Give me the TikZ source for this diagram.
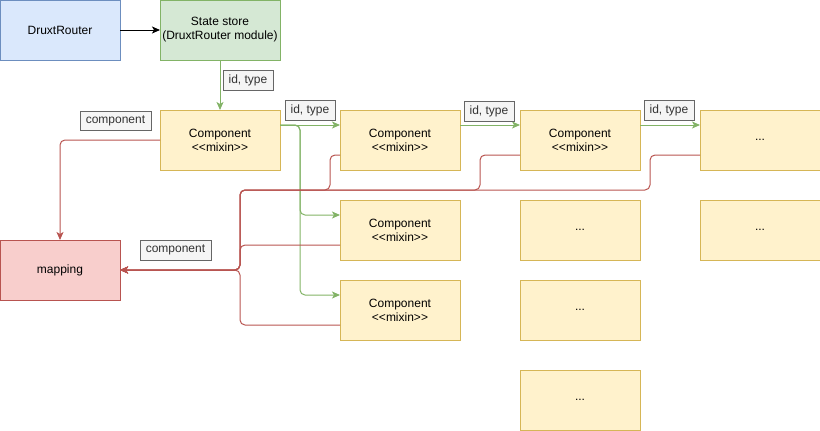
\documentclass[tikz,border=0pt]{standalone}
\usepackage{fontspec}
\setmainfont{Liberation Sans}
\usetikzlibrary{arrows.meta,calc}
\definecolor{bluefill}{HTML}{DAE8FC}\definecolor{blueline}{HTML}{6C8EBF}
\definecolor{greenfill}{HTML}{D5E8D4}\definecolor{greenline}{HTML}{82B366}
\definecolor{yelfill}{HTML}{FFF2CC}\definecolor{yelline}{HTML}{D6B656}
\definecolor{redfill}{HTML}{F8CECC}\definecolor{redline}{HTML}{B85450}
\definecolor{lblfill}{HTML}{F5F5F5}\definecolor{lblline}{HTML}{666666}\definecolor{lbltext}{HTML}{333333}
\newcommand{\mixin}{<\kern0pt<mixin>\kern0pt>}
\begin{document}
\begin{tikzpicture}[x=1pt,y=-1pt,font=\fontsize{12}{14}\selectfont,
  box/.style={draw,line width=1pt,minimum width=120pt,minimum height=60pt,inner sep=0pt,outer sep=0pt,align=center},
  bluebox/.style={box,fill=bluefill,draw=blueline},
  greenbox/.style={box,fill=greenfill,draw=greenline},
  ybox/.style={box,fill=yelfill,draw=yelline},
  redbox/.style={box,fill=redfill,draw=redline},
  lbl/.style={draw=lblline,fill=lblfill,text=lbltext,line width=1pt,inner sep=0pt,minimum height=20pt},
  karr/.style={draw=black,line width=1pt,-{Stealth[length=8pt,width=7pt,inset=2pt]}},
  garr/.style={draw=greenline,line width=1pt,rounded corners=5pt,-{Stealth[length=8pt,width=7pt,inset=2pt]}},
  rarr/.style={draw=redline,line width=1pt,rounded corners=5pt,-{Stealth[length=8pt,width=7pt,inset=2pt]}}]
\useasboundingbox (0,0) rectangle (820,431);
% nodes
\node[bluebox] (router) at (60,30) {DruxtRouter};
\node[greenbox] (store) at (220,30) {State store\\(DruxtRouter module)};
\node[ybox] (c1) at (220,140) {Component\\\mixin};
\node[ybox] (c2) at (400,140) {Component\\\mixin};
\node[ybox] (c3) at (580,140) {Component\\\mixin};
\node[ybox] (d1) at (760,140) {...};
\node[ybox] (c4) at (400,230) {Component\\\mixin};
\node[ybox] (c5) at (400,310) {Component\\\mixin};
\node[ybox] (d2) at (580,230) {...};
\node[ybox] (d3) at (580,310) {...};
\node[ybox] (d4) at (580,400) {...};
\node[ybox] (d5) at (760,230) {...};
\node[redbox] (map) at (60,270) {mapping};
\coordinate (tr) at (240,190);
\coordinate (hub) at (240,270);
% connectors
\draw[karr] (router.east) -- (store.west);
\draw[garr] (store.south) -- (c1.north);
\draw[garr] ([yshift=15pt]c1.east) -- ([yshift=15pt]c2.west);
\draw[garr] ([yshift=15pt]c1.east) -- ++(20,0) |- ([yshift=15pt]c4.west);
\draw[garr] ([yshift=15pt]c1.east) -- ++(20,0) |- ([yshift=15pt]c5.west);
\draw[garr] ([yshift=15pt]c2.east) -- ([yshift=15pt]c3.west);
\draw[garr] ([yshift=15pt]c3.east) -- ([yshift=15pt]d1.west);
\draw[rarr] (c1.west) -| (map.north);
\draw[rarr] ([yshift=-15pt]c2.west) -- ++(-10,0) |- (tr) -- (hub) -- (map.east);
\draw[rarr] ([yshift=-15pt]c3.west) -- ++(-40,0) |- (tr) -- (hub) -- (map.east);
\draw[rarr] ([yshift=-15pt]d1.west) -- ++(-50,0) |- (tr) -- (hub) -- (map.east);
\draw[rarr] ([yshift=-15pt]c4.west) -| (hub) -- (map.east);
\draw[rarr] ([yshift=-15pt]c5.west) -| (hub) -- (map.east);
% labels
\node[lbl,minimum width=50pt] (l1) at (248,80) {id, type};
\node[lbl,minimum width=50pt] (l2) at (310,110) {id, type};
\node[lbl,minimum width=50pt] (l3) at (489,111) {id, type};
\node[lbl,minimum width=50pt] (l4) at (669,110) {id, type};
\node[lbl,minimum width=71pt,minimum height=19pt] (l5) at (115.5,120.5) {component};
\node[lbl,minimum width=71pt] (l6) at (175.5,250) {component};
\end{tikzpicture}
\end{document}
